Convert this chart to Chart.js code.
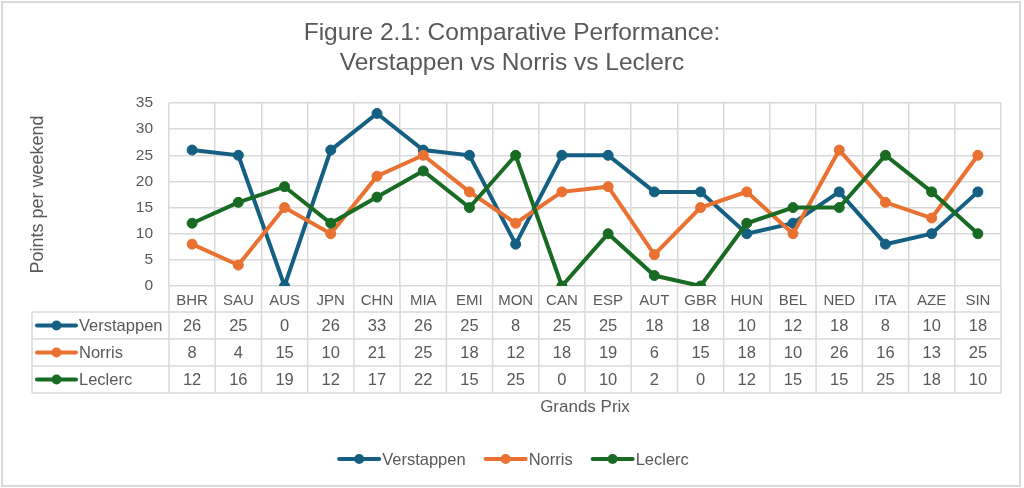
<!DOCTYPE html>
<html>
<head>
<meta charset="utf-8">
<title>Figure 2.1: Comparative Performance</title>
<script src="https://cdn.jsdelivr.net/npm/chart.js@4.4.2/dist/chart.umd.min.js"></script>
<style>
  html, body { margin: 0; padding: 0; background: #fff; }
  #chart { display: block; }
</style>
</head>
<body>
<canvas id="chart" width="1024" height="488"></canvas>
<script>
// Données
const grandsPrix = ['BHR', 'SAU', 'AUS', 'JPN', 'CHN', 'MIA', 'EMI', 'MON', 'CAN', 'ESP', 'AUT', 'GBR', 'HUN', 'BEL', 'NED', 'ITA', 'AZE', 'SIN'];
const verstappen = [26, 25, 0, 26, 33, 26, 25, 8, 25, 25, 18, 18, 10, 12, 18, 8, 10, 18];
const norris = [8, 4, 15, 10, 21, 25, 18, 12, 18, 19, 6, 15, 18, 10, 26, 16, 13, 25];
const leclerc = [12, 16, 19, 12, 17, 22, 15, 25, 0, 10, 2, 0, 12, 15, 15, 25, 18, 10];
const yTicks = [0, 5, 10, 15, 20, 25, 30, 35];
const driverNames = ['Verstappen', 'Norris', 'Leclerc'];
const titleLines = ['Figure 2.1: Comparative Performance:', 'Verstappen vs Norris vs Leclerc'];

// Styles
const FONT = "'Liberation Sans', Arial, sans-serif";
const TEXT = '#595959';
const GRID = '#d9d9d9';
const colors = ['#156082', '#E97132', '#196B24'];

const seriesData = [verstappen, norris, leclerc];

function drawKey(ctx, x1, x2, y, color) {
    ctx.save();
    ctx.strokeStyle = color;
    ctx.lineWidth = 4;
    ctx.lineCap = 'round';
    ctx.beginPath();
    ctx.moveTo(x1, y);
    ctx.lineTo(x2, y);
    ctx.stroke();
    ctx.fillStyle = color;
    ctx.beginPath();
    ctx.arc((x1 + x2) / 2, y, 5, 0, Math.PI * 2);
    ctx.fill();
    ctx.restore();
}

// Cadre, titre, tableau de données et légende
const extrasPlugin = {
    id: 'extras',
    beforeDraw(chart) {
        const ctx = chart.ctx;
        ctx.save();
        ctx.fillStyle = '#fff';
        ctx.fillRect(0, 0, chart.width, chart.height);
        ctx.strokeStyle = GRID;
        ctx.lineWidth = 2;
        ctx.strokeRect(2, 2, 1018, 484);
        ctx.restore();
    },
    afterDraw(chart) {
        const { ctx, chartArea } = chart;
        const x = chart.scales.x;
        ctx.save();

        // titre
        ctx.fillStyle = TEXT;
        ctx.font = `24.5px ${FONT}`;
        ctx.textAlign = 'center';
        ctx.textBaseline = 'middle';
        ctx.fillText(titleLines[0], 512, 33);
        ctx.fillText(titleLines[1], 512, 63);

        // tableau
        const step = x.getPixelForValue(1) - x.getPixelForValue(0);
        const edges = grandsPrix.map((_, i) => x.getPixelForValue(i) - step / 2);
        edges.push(x.getPixelForValue(grandsPrix.length - 1) + step / 2);
        const tableLeft = 32;
        const top = chartArea.bottom + 26;
        const rowH = 27;
        const bottom = top + rowH * seriesData.length;
        const right = edges[edges.length - 1];

        ctx.strokeStyle = GRID;
        ctx.lineWidth = 1.5;
        ctx.beginPath();
        edges.forEach(ex => {
            ctx.moveTo(ex, chartArea.bottom);
            ctx.lineTo(ex, bottom);
        });
        for (let r = 0; r <= seriesData.length; r++) {
            ctx.moveTo(tableLeft, top + r * rowH);
            ctx.lineTo(right, top + r * rowH);
        }
        ctx.moveTo(tableLeft, top);
        ctx.lineTo(tableLeft, bottom);
        ctx.stroke();

        ctx.font = `16.5px ${FONT}`;
        seriesData.forEach((values, r) => {
            const cy = top + r * rowH + rowH / 2;
            drawKey(ctx, 37, 76, cy, colors[r]);
            ctx.fillStyle = TEXT;
            ctx.textAlign = 'left';
            ctx.fillText(driverNames[r], 79, cy + 1);
            ctx.textAlign = 'center';
            values.forEach((v, i) => ctx.fillText(String(v), x.getPixelForValue(i), cy + 1));
        });

        // légende
        ctx.font = `16.5px ${FONT}`;
        const keyW = 40, gap = 3, spacing = 20;
        const widths = driverNames.map(n => keyW + gap + ctx.measureText(n).width);
        const total = widths.reduce((a, b) => a + b, 0) + spacing * (widths.length - 1);
        let lx = 514 - total / 2;
        const ly = 459;
        driverNames.forEach((n, i) => {
            drawKey(ctx, lx, lx + keyW, ly, colors[i]);
            ctx.fillStyle = TEXT;
            ctx.textAlign = 'left';
            ctx.fillText(n, lx + keyW + gap, ly + 1);
            lx += widths[i] + spacing;
        });

        ctx.restore();
    }
};

Chart.defaults.font.family = FONT;
Chart.defaults.color = TEXT;

new Chart(document.getElementById('chart'), {
    type: 'line',
    data: {
        labels: grandsPrix,
        datasets: driverNames.map((name, i) => ({
            label: name,
            data: seriesData[i],
            borderColor: colors[i],
            backgroundColor: colors[i],
            borderWidth: 4,
            pointRadius: 5,
            pointHoverRadius: 5,
            pointBackgroundColor: colors[i],
            pointBorderColor: colors[i],
            pointBorderWidth: 1,
            tension: 0,
            order: driverNames.length - i
        }))
    },
    options: {
        responsive: false,
        animation: false,
        devicePixelRatio: 1,
        events: [],
        layout: { padding: { top: 103, right: 23, bottom: 0, left: 0 } },
        plugins: {
            legend: { display: false },
            title: { display: false },
            tooltip: { enabled: false }
        },
        scales: {
            x: {
                offset: true,
                grid: { offset: true, color: GRID, lineWidth: 1.5, drawTicks: false },
                border: { display: false },
                ticks: { color: TEXT, font: { size: 15 }, padding: 6, maxRotation: 0, autoSkip: false },
                title: { display: true, text: 'Grands Prix', color: TEXT, font: { size: 17 }, padding: { bottom: 70 } },
                afterFit: scale => { scale.height = 202; }
            },
            y: {
                min: 0,
                max: 35,
                afterBuildTicks: scale => { scale.ticks = yTicks.map(v => ({ value: v })); },
                grid: { color: GRID, lineWidth: 1.5, drawTicks: false },
                border: { display: false },
                ticks: { color: TEXT, font: { size: 15.5 }, padding: 16 },
                title: { display: true, text: 'Points per weekend', color: TEXT, font: { size: 18 }, padding: { top: 27 } },
                afterFit: scale => { scale.width = 169; }
            }
        }
    },
    plugins: [extrasPlugin]
});
</script>
</body>
</html>
